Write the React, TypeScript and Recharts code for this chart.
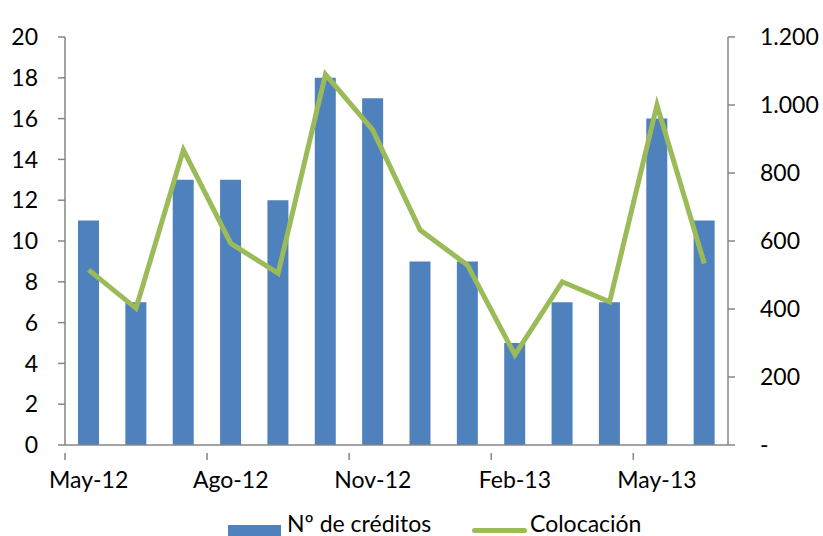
import React from 'react';
import { ComposedChart, Bar, Line, XAxis, YAxis, Legend } from 'recharts';

const months = ['May-12', 'Jun-12', 'Jul-12', 'Ago-12', 'Sep-12', 'Oct-12', 'Nov-12', 'Dic-12', 'Ene-13', 'Feb-13', 'Mar-13', 'Abr-13', 'May-13', 'Jun-13'];
const creditos = [11, 7, 13, 13, 12, 18, 17, 9, 9, 5, 7, 7, 16, 11];
const colocacion = [515, 402, 868, 593, 505, 1090, 926, 632, 529, 265, 480, 421, 1000, 534];
const leftTicks = [0, 2, 4, 6, 8, 10, 12, 14, 16, 18, 20];
const rightTicks = [0, 200, 400, 600, 800, 1000, 1200];

const data = months.map((m, i) => ({ month: m, creditos: creditos[i], colocacion: colocacion[i] }));

const FONT = 'Lato, "Open Sans", sans-serif';
const AXIS = '#868686';
const BAR = '#4F81BD';
const LINE = '#9BBB59';

const fmtRight = (v: number) => (v === 0 ? '-' : v.toLocaleString('de-DE'));

const XTick = (props: any) => {
  const { x, y, payload, index, width } = props;
  const band = width / months.length;
  if (index % 3 !== 0) return null;
  const bx = x - band / 2;
  return (
    <g>
      <line x1={bx} y1={y} x2={bx} y2={y + 7} stroke={AXIS} strokeWidth={1.5} />
      <text x={x} y={y + 35} textAnchor="middle" fill="#000" fontSize={23} fontFamily={FONT}>
        {payload.value}
      </text>
    </g>
  );
};

const LegendContent = () => (
  <div style={{ position: 'relative', height: 30, fontFamily: FONT, fontSize: 23, color: '#000' }}>
    <div style={{ position: 'absolute', left: 228, top: 19, width: 53, height: 11, background: BAR }} />
    <div style={{ position: 'absolute', left: 287, top: 0, lineHeight: '34px', whiteSpace: 'nowrap' }}>Nº de créditos</div>
    <div style={{ position: 'absolute', left: 472, top: 22, width: 55, height: 5, borderRadius: 3, background: LINE }} />
    <div style={{ position: 'absolute', left: 530, top: 0, lineHeight: '34px', whiteSpace: 'nowrap' }}>Colocación</div>
  </div>
);

export default function App() {
  return (
    <div style={{ position: 'absolute', left: 0, top: 0, width: 823, height: 536, background: '#fff' }}>
      <ComposedChart width={823} height={536} data={data} margin={{ top: 37, right: 0, bottom: 0, left: 0 }} barSize={21}>
        <XAxis
          dataKey="month"
          interval={0}
          tickLine={false}
          tick={<XTick />}
          height={61}
          axisLine={{ stroke: AXIS, strokeWidth: 1.5 }}
        />
        <YAxis
          yAxisId="left"
          width={65}
          domain={[0, 20]}
          ticks={leftTicks}
          tickSize={7}
          tickMargin={20}
          tickLine={{ stroke: AXIS, strokeWidth: 1.5 }}
          axisLine={{ stroke: AXIS, strokeWidth: 1.5 }}
          tick={{ fill: '#000', fontSize: 23, fontFamily: FONT }}
          interval={0}
        />
        <YAxis
          yAxisId="right"
          orientation="right"
          width={95}
          domain={[0, 1200]}
          ticks={rightTicks}
          tickFormatter={fmtRight}
          tickSize={7}
          tickMargin={25}
          tickLine={{ stroke: AXIS, strokeWidth: 1.5 }}
          axisLine={{ stroke: AXIS, strokeWidth: 1.5 }}
          tick={{ fill: '#000', fontSize: 23, fontFamily: FONT, textAnchor: 'start' }}
          interval={0}
        />
        <Bar yAxisId="left" dataKey="creditos" name="Nº de créditos" fill={BAR} isAnimationActive={false} />
        <Line
          yAxisId="right"
          dataKey="colocacion"
          name="Colocación"
          stroke={LINE}
          strokeWidth={5}
          dot={false}
          activeDot={false}
          isAnimationActive={false}
        />
        <Legend verticalAlign="bottom" height={30} content={<LegendContent />} wrapperStyle={{ left: 0, width: 823 }} />
      </ComposedChart>
    </div>
  );
}
